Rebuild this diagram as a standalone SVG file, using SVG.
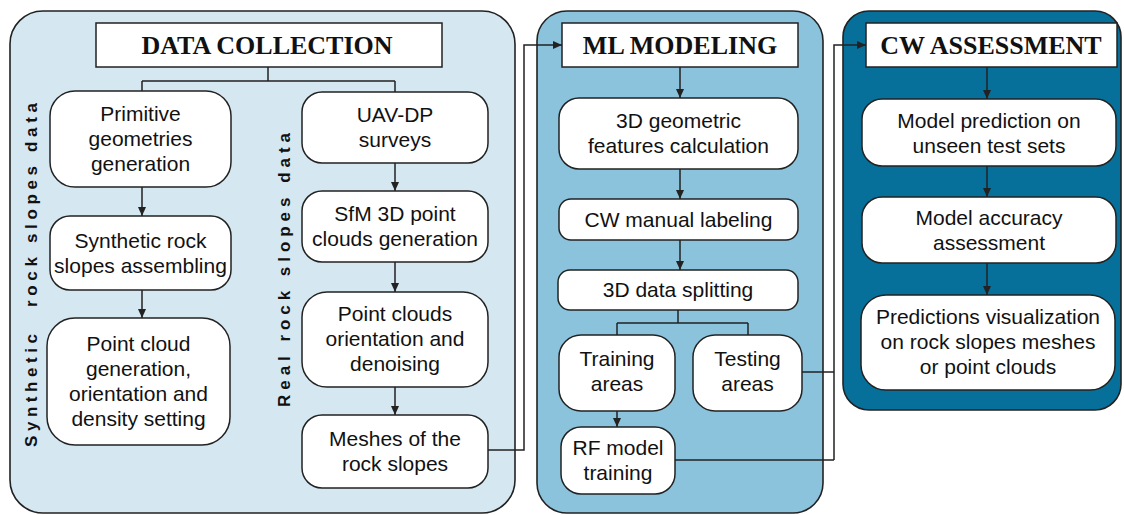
<svg xmlns="http://www.w3.org/2000/svg" width="1124" height="515" viewBox="0 0 1124 515">
<defs>
<style>
.panel{stroke:#222;stroke-width:1.6}
.node{fill:#fff;stroke:#222;stroke-width:1.5}
.title{fill:#fff;stroke:#222;stroke-width:1.5}
.t{font-family:"Liberation Sans",Arial,sans-serif;font-size:21px;fill:#111;text-anchor:middle}
.h{font-family:"Liberation Serif","Times New Roman",serif;font-size:26px;font-weight:bold;fill:#111;text-anchor:middle}
.side{font-family:"Liberation Sans",Arial,sans-serif;font-size:17px;font-weight:bold;fill:#111}
.c{fill:none;stroke:#222;stroke-width:1.5}
</style>
<marker id="ah" markerWidth="9" markerHeight="8" refX="9" refY="4" orient="auto" markerUnits="userSpaceOnUse">
<path d="M0,0 L9,4 L0,8 z" fill="#222"/>
</marker>
</defs>
<rect width="1124" height="515" fill="#fff"/>

<g id="panel-data">
<rect class="panel" x="10" y="11" width="505" height="502" rx="33" fill="#d5e7f1"/>
</g>
<g id="panel-ml">
<rect class="panel" x="537" y="11" width="286" height="502" rx="30" fill="#8bc3dc"/>
</g>
<g id="panel-cw">
<rect class="panel" x="843" y="11" width="278" height="399" rx="26" fill="#07709a"/>
</g>

<g id="side-labels">
<g transform="translate(37,447) rotate(-90)">
<text class="side" x="0" y="0" textLength="113" lengthAdjust="spacing">Synthetic</text>
<text class="side" x="140" y="0" textLength="204" lengthAdjust="spacing">rock slopes data</text>
</g>
<text class="side" transform="translate(290,407) rotate(-90)" x="0" y="0" textLength="274" lengthAdjust="spacing">Real rock slopes data</text>
</g>

<g id="title-data"><rect class="title" x="96" y="23" width="346" height="44"/><text class="h" x="267" y="54">DATA COLLECTION</text></g>
<g id="title-ml"><rect class="title" x="562" y="23" width="236" height="44"/><text class="h" x="680" y="54">ML MODELING</text></g>
<g id="title-cw"><rect class="title" x="866" y="23" width="251" height="44"/><text class="h" x="991" y="54">CW ASSESSMENT</text></g>

<g id="node-primitive"><rect class="node" x="50" y="91" width="181" height="96" rx="25"/><text class="t"><tspan x="140.5" y="121">Primitive</tspan><tspan x="140.5" y="146">geometries</tspan><tspan x="140.5" y="171">generation</tspan></text></g>
<g id="node-synthetic"><rect class="node" x="50" y="216" width="181" height="74" rx="20"/><text class="t"><tspan x="140.5" y="248">Synthetic rock</tspan><tspan x="140.5" y="273">slopes assembling</tspan></text></g>
<g id="node-pointcloud"><rect class="node" x="47" y="318" width="183" height="127" rx="28"/><text class="t"><tspan x="138.5" y="351">Point cloud</tspan><tspan x="138.5" y="376">generation,</tspan><tspan x="138.5" y="401">orientation and</tspan><tspan x="138.5" y="426">density setting</tspan></text></g>

<g id="node-uav"><rect class="node" x="302" y="92" width="186" height="71" rx="20"/><text class="t"><tspan x="395" y="122">UAV-DP</tspan><tspan x="395" y="147">surveys</tspan></text></g>
<g id="node-sfm"><rect class="node" x="302" y="191" width="186" height="71" rx="20"/><text class="t"><tspan x="395" y="221">SfM 3D point</tspan><tspan x="395" y="246">clouds generation</tspan></text></g>
<g id="node-orient"><rect class="node" x="302" y="292" width="186" height="95" rx="25"/><text class="t"><tspan x="395" y="321">Point clouds</tspan><tspan x="395" y="346">orientation and</tspan><tspan x="395" y="371">denoising</tspan></text></g>
<g id="node-meshes"><rect class="node" x="302" y="415" width="186" height="73" rx="20"/><text class="t"><tspan x="395" y="446">Meshes of the</tspan><tspan x="395" y="471">rock slopes</tspan></text></g>

<g id="node-geo"><rect class="node" x="559" y="98" width="239" height="71" rx="20"/><text class="t"><tspan x="678.5" y="128">3D geometric</tspan><tspan x="678.5" y="153">features calculation</tspan></text></g>
<g id="node-label"><rect class="node" x="559" y="199" width="239" height="41" rx="12"/><text class="t" x="678.5" y="227">CW manual labeling</text></g>
<g id="node-split"><rect class="node" x="558" y="270" width="240" height="40" rx="12"/><text class="t" x="678" y="297">3D data splitting</text></g>
<g id="node-train"><rect class="node" x="559" y="335" width="116" height="76" rx="22"/><text class="t"><tspan x="617" y="366">Training</tspan><tspan x="617" y="391">areas</tspan></text></g>
<g id="node-test"><rect class="node" x="693" y="335" width="109" height="76" rx="22"/><text class="t"><tspan x="747.5" y="366">Testing</tspan><tspan x="747.5" y="391">areas</tspan></text></g>
<g id="node-rf"><rect class="node" x="561" y="427" width="114" height="67" rx="20"/><text class="t"><tspan x="618" y="455">RF model</tspan><tspan x="618" y="480">training</tspan></text></g>

<g id="node-pred"><rect class="node" x="862" y="99" width="254" height="67" rx="20"/><text class="t"><tspan x="989" y="128">Model prediction on</tspan><tspan x="989" y="153">unseen test sets</tspan></text></g>
<g id="node-acc"><rect class="node" x="862" y="197" width="254" height="66" rx="20"/><text class="t"><tspan x="989" y="225">Model accuracy</tspan><tspan x="989" y="250">assessment</tspan></text></g>
<g id="node-vis"><rect class="node" x="861" y="295" width="254" height="95" rx="25"/><text class="t"><tspan x="988" y="324">Predictions visualization</tspan><tspan x="988" y="349">on rock slopes meshes</tspan><tspan x="988" y="374">or point clouds</tspan></text></g>

<g id="connectors">
<path class="c" d="M268,67 V81 M142,81 H395 M142,81 V91 M395,81 V92"/>
<path class="c" d="M142,187 V216" marker-end="url(#ah)"/>
<path class="c" d="M142,290 V318" marker-end="url(#ah)"/>
<path class="c" d="M395,163 V191" marker-end="url(#ah)"/>
<path class="c" d="M395,262 V292" marker-end="url(#ah)"/>
<path class="c" d="M395,387 V415" marker-end="url(#ah)"/>
<path class="c" d="M488,450 H524 V45 H562" marker-end="url(#ah)"/>
<path class="c" d="M680,67 V98" marker-end="url(#ah)"/>
<path class="c" d="M680,169 V199" marker-end="url(#ah)"/>
<path class="c" d="M680,240 V270" marker-end="url(#ah)"/>
<path class="c" d="M678,310 V323 M617,323 H748 M617,323 V335 M748,323 V335"/>
<path class="c" d="M617,411 V427" marker-end="url(#ah)"/>
<path class="c" d="M802,372 H834 M675,460 H834"/>
<path class="c" d="M834,460 V45 H866" marker-end="url(#ah)"/>
<path class="c" d="M987,67 V99" marker-end="url(#ah)"/>
<path class="c" d="M987,166 V197" marker-end="url(#ah)"/>
<path class="c" d="M987,263 V295" marker-end="url(#ah)"/>
</g>
</svg>
